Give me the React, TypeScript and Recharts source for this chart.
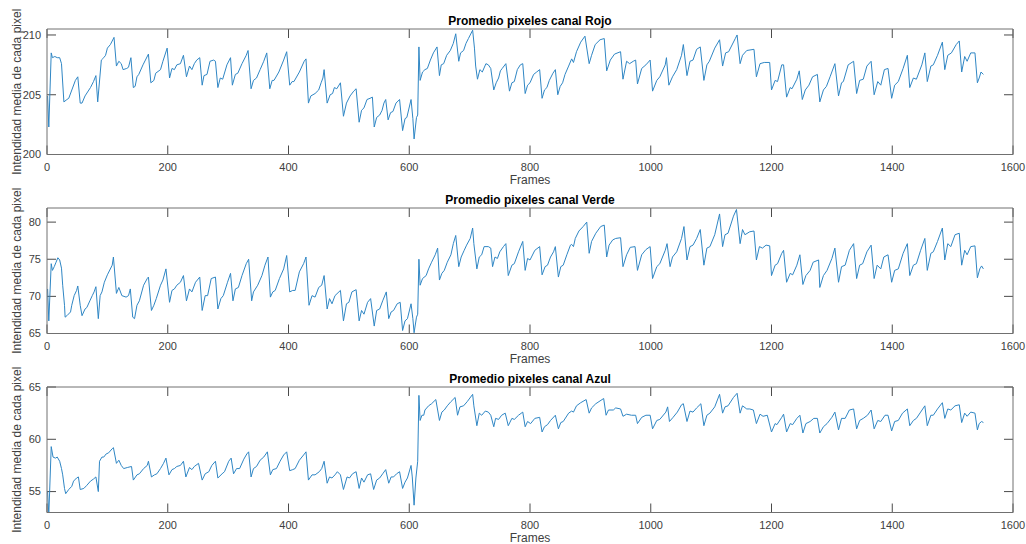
import React from 'react';
import { LineChart, Line, XAxis, YAxis, ReferenceLine } from 'recharts';

const frameTicks = [0, 200, 400, 600, 800, 1000, 1200, 1400, 1600];
const rojoTicks = [200, 205, 210];
const verdeTicks = [65, 70, 75, 80];
const azulTicks = [55, 60, 65];
const frameDomain: [number, number] = [0, 1600];
const rojoDomain: [number, number] = [200, 210.5];
const verdeDomain: [number, number] = [65, 81.9];
const azulDomain: [number, number] = [53, 65];
const titles = ['Promedio pixeles canal Rojo', 'Promedio pixeles canal Verde', 'Promedio pixeles canal Azul'];
const xLabel = 'Frames';
const yLabel = 'Intendidad media de cada pixel';

// [frame, intensidad]
const rojoSerie: [number, number][] = [
  [1,204.9],[3,202.3],[7,208.5],[9,208.1],[13,208.2],[17,208.1],[21,208.1],[24,207.6],[28,204.4],[33,204.6],[36,204.7],[47,206.2],[51,206.5],[55,204.3],[58,204.3],[63,204.9],[72,205.6],[77,206.1],[81,206.6],[84,204.4],[90,207.9],[94,208.1],[97,208.3],[100,208.9],[105,209.2],[111,209.8],[115,207.4],[119,207.8],[123,207.6],[126,207.1],[132,207.2],[135,207.3],[139,208.1],[143,205.6],[146,205.7],[149,206.5],[152,206.7],[159,207.5],[163,207.9],[168,208.4],[172,206.0],[177,206.2],[180,206.8],[188,207.1],[192,207.8],[199,208.9],[203,206.4],[207,207.2],[211,207.1],[215,207.5],[221,207.6],[226,208.3],[231,206.5],[236,207.4],[240,207.1],[244,207.6],[248,207.9],[253,208.1],[257,205.8],[260,206.6],[265,206.7],[270,207.8],[276,207.9],[279,207.8],[283,205.6],[287,206.4],[291,206.3],[298,207.5],[304,208.1],[307,205.8],[312,206.7],[316,206.8],[323,207.6],[330,208.3],[333,208.7],[338,205.5],[342,206.2],[347,206.4],[353,207.1],[359,207.8],[364,208.5],[369,205.5],[373,206.2],[376,206.2],[384,206.9],[392,207.9],[397,208.6],[402,205.8],[406,206.1],[409,206.1],[418,206.9],[426,207.8],[429,208.0],[433,204.3],[437,204.9],[444,205.1],[450,205.4],[454,206.0],[457,206.4],[459,207.1],[464,204.3],[469,205.0],[473,205.1],[476,205.6],[480,205.5],[486,206.0],[491,203.2],[496,204.3],[502,204.9],[508,205.3],[512,205.5],[517,202.7],[521,203.7],[525,203.9],[530,204.6],[535,204.7],[539,204.8],[542,202.3],[546,203.1],[551,203.3],[555,203.7],[558,204.3],[561,204.6],[565,202.9],[569,203.5],[573,203.6],[578,204.3],[584,204.6],[589,202.0],[593,203.0],[596,203.1],[603,204.6],[606,203.0],[608,201.3],[612,203.1],[614,203.3],[616,209.0],[618,206.2],[622,206.9],[626,207.1],[630,207.2],[635,207.9],[640,208.5],[646,209.0],[650,206.6],[653,207.5],[657,207.6],[662,208.3],[668,208.7],[673,209.3],[677,210.1],[682,207.8],[685,208.5],[690,208.7],[694,209.3],[698,209.7],[705,210.4],[708,208.9],[710,207.4],[713,206.3],[717,207.1],[721,206.9],[727,207.6],[731,207.5],[735,207.2],[740,205.4],[744,206.0],[748,206.4],[751,207.0],[754,207.2],[760,207.6],[766,205.3],[770,206.0],[774,206.1],[779,207.1],[784,207.5],[788,207.6],[792,205.1],[796,205.8],[800,206.0],[806,206.7],[811,206.9],[816,207.1],[820,204.7],[824,205.4],[828,205.6],[832,206.2],[838,206.8],[842,207.1],[846,205.0],[850,205.7],[854,206.0],[858,206.7],[864,207.4],[869,208.0],[872,207.7],[877,208.6],[884,209.4],[891,209.9],[898,207.6],[902,208.3],[908,209.2],[916,209.6],[923,209.7],[927,207.0],[933,207.9],[940,208.4],[950,208.6],[954,206.3],[960,207.8],[965,207.6],[971,207.8],[975,207.9],[978,205.9],[985,207.2],[992,207.5],[999,207.9],[1003,205.3],[1010,206.2],[1015,206.5],[1024,207.5],[1026,208.1],[1030,205.8],[1036,206.5],[1043,207.1],[1051,208.3],[1054,209.2],[1060,206.6],[1065,207.8],[1070,207.9],[1076,208.8],[1082,209.0],[1088,206.2],[1093,207.5],[1097,207.8],[1106,208.9],[1114,209.6],[1119,207.4],[1124,208.5],[1129,208.6],[1140,209.7],[1143,210.0],[1148,207.6],[1152,208.3],[1159,208.7],[1171,208.8],[1175,206.5],[1181,207.6],[1188,207.7],[1197,207.7],[1200,205.4],[1206,206.2],[1210,206.1],[1217,207.5],[1220,207.5],[1225,204.8],[1231,205.6],[1234,205.5],[1242,206.3],[1246,207.0],[1251,204.6],[1256,205.4],[1262,205.8],[1268,206.5],[1276,206.7],[1280,204.4],[1286,205.4],[1291,205.7],[1297,206.5],[1305,207.6],[1311,204.9],[1316,206.0],[1319,206.1],[1327,207.5],[1336,207.8],[1341,205.1],[1346,206.2],[1352,206.3],[1358,207.4],[1365,207.8],[1370,205.0],[1376,206.1],[1381,205.8],[1387,207.1],[1393,207.2],[1399,204.7],[1404,205.8],[1410,206.1],[1418,207.2],[1425,208.3],[1429,205.6],[1435,206.4],[1440,206.3],[1449,207.5],[1454,208.5],[1458,206.1],[1464,207.4],[1468,207.5],[1475,208.3],[1483,209.4],[1487,207.1],[1492,208.3],[1498,208.5],[1506,209.2],[1511,209.5],[1515,206.9],[1520,208.2],[1524,207.8],[1530,208.5],[1537,208.5],[1541,206.0],[1544,206.4],[1547,206.9],[1551,206.7]
];

const verdeSerie: [number, number][] = [
  [1,71.0],[3,66.7],[7,74.4],[9,73.5],[12,74.0],[15,74.6],[18,75.2],[21,74.9],[24,73.8],[26,71.5],[29,68.8],[30,67.2],[33,67.4],[39,67.9],[41,68.8],[45,70.1],[49,70.8],[51,71.4],[55,68.8],[58,67.4],[63,68.3],[66,68.5],[71,69.4],[75,70.1],[78,70.6],[81,71.3],[85,67.0],[88,70.1],[91,70.6],[95,71.9],[100,72.9],[108,74.2],[110,75.3],[115,70.4],[119,71.2],[124,70.1],[131,69.9],[135,70.1],[138,71.0],[142,67.2],[145,67.0],[149,68.8],[153,69.4],[160,71.5],[166,72.4],[168,72.6],[173,68.1],[177,68.8],[181,69.7],[188,71.5],[192,72.2],[197,73.7],[203,69.2],[207,70.8],[211,71.0],[215,71.5],[221,71.9],[226,72.8],[231,69.4],[236,71.0],[240,70.6],[246,71.9],[253,72.6],[257,68.1],[262,70.1],[266,70.1],[272,72.4],[279,72.6],[283,68.3],[288,69.7],[292,70.1],[299,71.9],[304,73.1],[308,69.4],[312,71.0],[317,71.2],[323,72.8],[330,74.4],[334,75.0],[339,69.4],[342,70.6],[349,71.5],[356,72.8],[361,74.2],[366,75.3],[370,69.9],[374,70.6],[378,70.8],[385,72.4],[392,73.7],[397,75.5],[402,70.6],[407,70.8],[411,70.8],[418,73.3],[425,74.4],[429,75.3],[434,68.8],[439,70.1],[444,69.9],[450,71.2],[455,71.5],[459,72.8],[464,68.3],[468,69.7],[472,69.0],[477,70.1],[486,70.8],[491,66.7],[496,69.0],[500,69.2],[505,70.6],[512,70.9],[517,66.7],[521,68.1],[525,67.6],[531,69.2],[536,69.7],[542,66.0],[546,68.1],[551,68.3],[556,69.4],[562,70.6],[566,67.0],[570,67.9],[574,68.1],[580,69.0],[585,69.2],[589,65.4],[593,66.7],[597,67.0],[603,69.0],[606,67.0],[608,65.1],[612,67.2],[614,67.6],[616,75.0],[618,71.5],[622,72.4],[628,72.8],[632,73.7],[637,74.6],[643,75.6],[647,76.5],[650,72.2],[654,73.1],[658,73.5],[663,74.6],[669,75.6],[673,77.1],[677,78.2],[682,74.0],[686,75.3],[691,76.2],[695,76.9],[701,77.8],[705,79.2],[707,77.1],[712,73.7],[716,75.3],[720,75.6],[724,76.7],[731,76.7],[735,76.5],[738,74.0],[742,75.3],[746,75.1],[750,76.0],[756,76.7],[760,77.1],[764,72.8],[770,74.2],[774,74.4],[781,76.0],[788,77.4],[792,73.5],[796,75.1],[800,74.9],[808,76.2],[816,76.7],[820,72.9],[825,74.0],[829,74.2],[834,75.3],[839,76.0],[842,76.7],[847,72.6],[851,74.0],[855,74.2],[861,75.6],[867,76.9],[869,77.0],[872,76.7],[875,77.8],[881,78.8],[888,79.4],[894,80.0],[898,75.8],[902,77.4],[909,78.5],[917,79.4],[923,79.6],[927,75.3],[931,76.9],[937,77.6],[942,77.8],[950,77.9],[954,74.0],[960,75.6],[966,76.6],[974,76.7],[978,73.5],[985,75.6],[992,76.3],[999,76.7],[1003,72.4],[1010,74.0],[1015,74.4],[1024,76.2],[1027,77.1],[1032,74.0],[1036,75.3],[1043,76.0],[1051,77.8],[1055,79.4],[1060,74.9],[1065,76.7],[1070,76.9],[1076,77.8],[1082,79.0],[1088,74.2],[1093,76.5],[1098,76.7],[1106,78.3],[1114,81.1],[1119,76.7],[1123,78.3],[1128,78.5],[1137,80.8],[1142,81.7],[1148,77.1],[1152,79.0],[1156,78.3],[1164,78.7],[1171,78.8],[1175,74.9],[1180,76.7],[1185,76.5],[1191,76.9],[1197,76.8],[1200,72.8],[1206,74.2],[1210,74.4],[1217,75.8],[1220,76.2],[1225,71.9],[1231,73.1],[1235,72.9],[1242,74.2],[1247,75.6],[1252,71.6],[1257,72.8],[1264,73.5],[1269,74.6],[1278,74.9],[1280,71.2],[1286,72.8],[1292,73.5],[1300,75.1],[1305,76.5],[1311,71.9],[1316,74.0],[1322,74.2],[1329,76.2],[1336,77.1],[1341,72.4],[1346,74.2],[1351,74.4],[1358,76.0],[1365,76.9],[1370,72.4],[1375,74.2],[1381,73.7],[1386,75.3],[1393,75.6],[1399,71.9],[1404,73.5],[1410,73.7],[1418,75.8],[1425,77.1],[1429,72.8],[1435,74.2],[1440,74.4],[1447,76.2],[1454,77.8],[1458,73.5],[1464,75.8],[1468,76.0],[1475,77.4],[1483,79.2],[1487,74.9],[1492,77.1],[1497,76.7],[1504,78.3],[1511,78.5],[1515,74.2],[1520,76.2],[1524,75.6],[1530,76.7],[1537,76.8],[1541,72.5],[1545,73.7],[1548,74.1],[1551,73.7]
];

const azulSerie: [number, number][] = [
  [1,55.0],[3,52.8],[7,59.3],[10,58.3],[14,58.2],[17,58.3],[21,57.9],[24,57.2],[26,56.6],[29,55.3],[31,54.8],[36,55.2],[41,55.5],[44,56.0],[49,56.3],[52,56.4],[55,55.2],[61,55.3],[66,55.6],[72,56.0],[77,56.2],[81,56.4],[85,55.0],[87,57.9],[91,58.3],[94,58.3],[98,58.6],[102,58.7],[108,59.1],[110,59.2],[115,57.7],[119,58.0],[123,57.5],[127,57.2],[133,57.3],[140,57.4],[143,56.1],[149,56.6],[153,56.7],[160,57.2],[166,57.5],[168,57.9],[173,56.4],[178,56.6],[182,56.7],[188,57.2],[193,57.7],[197,58.2],[202,56.6],[207,57.1],[211,57.2],[215,57.4],[221,57.5],[226,57.9],[230,56.4],[236,57.3],[240,57.1],[244,57.4],[251,57.7],[257,56.1],[262,56.7],[268,56.9],[273,57.5],[279,57.9],[283,56.3],[290,56.7],[294,56.9],[301,57.9],[305,58.2],[309,56.7],[314,57.2],[319,57.2],[326,58.1],[331,58.6],[334,58.8],[338,56.4],[342,57.2],[347,57.4],[353,58.0],[359,58.3],[365,58.8],[370,56.6],[374,57.1],[380,57.2],[386,57.9],[392,58.5],[397,58.8],[402,57.0],[407,57.1],[411,57.2],[418,58.0],[425,58.5],[429,58.8],[433,56.1],[439,56.6],[444,56.6],[451,56.9],[455,57.2],[459,57.9],[464,55.8],[468,56.4],[472,56.3],[477,56.6],[481,56.9],[486,56.6],[491,55.2],[497,56.4],[501,56.3],[506,56.7],[512,56.9],[517,55.3],[521,56.3],[525,55.9],[531,56.6],[536,56.7],[541,55.2],[546,56.1],[551,56.3],[556,56.7],[561,57.1],[566,55.8],[570,56.4],[574,56.4],[579,56.7],[584,56.9],[589,55.3],[593,55.9],[597,56.3],[603,57.5],[605,56.4],[608,53.7],[611,56.3],[614,57.9],[616,64.2],[618,61.8],[621,62.3],[624,62.3],[626,62.8],[632,63.2],[637,63.4],[644,63.8],[650,61.8],[654,62.6],[658,62.8],[663,63.2],[669,63.6],[676,64.0],[680,62.3],[684,63.1],[690,63.2],[696,63.6],[705,64.3],[707,63.2],[712,61.3],[716,62.5],[720,62.3],[726,62.7],[731,62.6],[735,62.3],[740,61.2],[743,62.0],[748,61.9],[753,62.3],[759,62.5],[764,61.3],[770,62.0],[774,61.9],[781,62.3],[788,62.6],[792,61.2],[796,61.7],[801,61.5],[808,62.0],[816,62.1],[820,60.7],[824,61.2],[829,61.4],[834,61.8],[842,62.3],[847,61.0],[851,61.6],[855,61.7],[864,62.5],[869,62.7],[872,62.6],[877,63.2],[884,63.5],[893,63.8],[898,62.5],[902,63.0],[909,63.4],[922,63.9],[926,62.3],[930,62.8],[938,62.8],[942,63.0],[950,62.9],[954,62.2],[960,62.4],[968,62.3],[975,62.3],[978,61.5],[985,62.1],[992,62.3],[999,62.3],[1003,61.0],[1010,61.8],[1015,61.9],[1025,62.6],[1028,63.1],[1031,61.7],[1037,62.1],[1044,62.6],[1051,63.3],[1054,63.4],[1060,61.7],[1065,62.7],[1070,62.6],[1076,63.0],[1083,63.4],[1088,61.3],[1093,62.3],[1098,62.5],[1106,63.1],[1114,64.3],[1119,62.5],[1123,63.1],[1128,63.2],[1137,64.0],[1143,64.4],[1148,62.5],[1152,63.2],[1159,62.9],[1164,62.9],[1170,62.8],[1175,61.5],[1181,62.4],[1186,62.2],[1193,62.3],[1200,60.7],[1206,61.5],[1209,61.4],[1217,62.1],[1220,62.4],[1225,60.7],[1231,61.5],[1235,61.4],[1242,62.0],[1247,62.3],[1252,60.6],[1257,61.5],[1264,61.7],[1270,62.0],[1276,62.0],[1280,60.6],[1286,61.2],[1292,61.5],[1300,62.1],[1305,62.6],[1311,60.9],[1316,62.0],[1322,62.0],[1329,62.8],[1336,62.9],[1341,61.0],[1346,61.8],[1352,62.0],[1359,62.3],[1365,62.8],[1370,61.0],[1376,61.8],[1381,61.7],[1388,62.3],[1393,62.3],[1399,60.8],[1404,61.7],[1410,61.8],[1417,62.5],[1425,62.9],[1429,61.3],[1435,61.8],[1440,62.0],[1447,62.6],[1454,63.2],[1458,61.3],[1464,62.3],[1468,62.3],[1475,62.9],[1483,63.5],[1487,62.0],[1492,62.9],[1497,62.8],[1504,63.2],[1511,63.3],[1515,61.6],[1520,62.5],[1524,62.2],[1530,62.6],[1537,62.5],[1541,60.9],[1544,61.5],[1548,61.7],[1551,61.6]
];

const lineColor = '#2f86c4';
const axisColor = '#707070';
const tickMarkColor = '#4a4a4a';
const textColor = '#404040';
const fontFamily = '"Liberation Sans", Arial, Helvetica, sans-serif';
const TICK_PX = 9;
const PLOT_W = 966;
const PLOT_H = 125.5;

type PanelProps = {
  title: string;
  serie: [number, number][];
  ticks: number[];
  domain: [number, number];
  top: number;
};

function Panel({ title, serie, ticks, domain, top }: PanelProps) {
  const data = serie.map(([frame, value]) => ({ frame, value }));
  const [y0, y1] = domain;
  const [x0, x1] = frameDomain;
  const ly = ((y1 - y0) * TICK_PX) / PLOT_H;
  const lx = ((x1 - x0) * TICK_PX) / PLOT_W;
  const tickStyle = { stroke: tickMarkColor, strokeWidth: 1, ifOverflow: 'visible' as const };
  return (
    <div style={{ position: 'absolute', left: 0, top, width: 1026, height: 190 }}>
      <LineChart width={1026} height={190} data={data} margin={{ top: 28, right: 12, bottom: 1.5, left: 0 }}>
        <XAxis
          xAxisId="b"
          dataKey="frame"
          type="number"
          domain={frameDomain}
          ticks={frameTicks}
          interval={0}
          orientation="bottom"
          height={34}
          tickSize={0}
          tickMargin={9}
          tickLine={false}
          stroke={axisColor}
          tick={{ fontSize: 11, fill: textColor }}
          label={{ value: xLabel, position: 'insideBottom', offset: 4.5, fontSize: 12, fill: textColor }}
        />
        <XAxis
          xAxisId="t"
          dataKey="frame"
          type="number"
          domain={frameDomain}
          ticks={frameTicks}
          interval={0}
          orientation="top"
          height={1}
          tick={false}
          tickLine={false}
          stroke={axisColor}
          label={{ value: title, position: 'top', offset: 3, fontSize: 12, fontWeight: 'bold', fill: '#000' }}
        />
        <YAxis
          yAxisId="l"
          type="number"
          domain={domain}
          ticks={ticks}
          interval={0}
          width={47}
          tickSize={0}
          tickMargin={6}
          tickLine={false}
          allowDataOverflow
          stroke={axisColor}
          tick={{ fontSize: 11, fill: textColor }}
          label={{ value: yLabel, angle: -90, position: 'center', dx: -6.5, fontSize: 12, fill: textColor }}
        />
        <YAxis
          yAxisId="r"
          orientation="right"
          type="number"
          domain={domain}
          ticks={ticks}
          interval={0}
          width={1}
          tick={false}
          tickLine={false}
          allowDataOverflow
          stroke={axisColor}
        />
        {frameTicks.map((t) => (
          <ReferenceLine key={`xb${t}`} xAxisId="b" yAxisId="l" segment={[{ x: t, y: y0 }, { x: t, y: y0 + ly }]} {...tickStyle} />
        ))}
        {frameTicks.map((t) => (
          <ReferenceLine key={`xt${t}`} xAxisId="b" yAxisId="l" segment={[{ x: t, y: y1 }, { x: t, y: y1 - ly }]} {...tickStyle} />
        ))}
        {ticks.map((t) => (
          <ReferenceLine key={`yl${t}`} xAxisId="b" yAxisId="l" segment={[{ x: x0, y: t }, { x: x0 + lx, y: t }]} {...tickStyle} />
        ))}
        {ticks.map((t) => (
          <ReferenceLine key={`yr${t}`} xAxisId="b" yAxisId="l" segment={[{ x: x1, y: t }, { x: x1 - lx, y: t }]} {...tickStyle} />
        ))}
        <Line
          xAxisId="b"
          yAxisId="l"
          type="linear"
          dataKey="value"
          stroke={lineColor}
          strokeWidth={1}
          dot={false}
          activeDot={false}
          isAnimationActive={false}
        />
      </LineChart>
    </div>
  );
}

export default function App() {
  return (
    <div style={{ position: 'absolute', left: 0, top: 0, width: 1026, height: 544, background: '#fff', fontFamily }}>
      <Panel title={titles[0]} serie={rojoSerie} ticks={rojoTicks} domain={rojoDomain} top={0} />
      <Panel title={titles[1]} serie={verdeSerie} ticks={verdeTicks} domain={verdeDomain} top={179} />
      <Panel title={titles[2]} serie={azulSerie} ticks={azulTicks} domain={azulDomain} top={358} />
    </div>
  );
}
